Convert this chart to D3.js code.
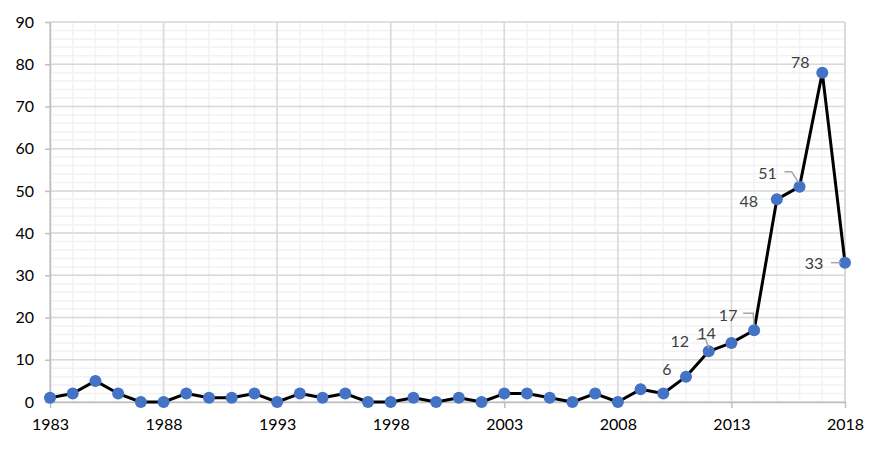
<!DOCTYPE html>
<html>
<head>
<meta charset="utf-8">
<script src="https://cdn.jsdelivr.net/npm/d3@7"></script>
<style>
  body { margin: 0; background: #fff; }
  text { font-family: Lato, "Open Sans", sans-serif; }
</style>
</head>
<body>
<div class="chart"></div>
<script>
// values
const years = d3.range(1983, 2019);
const counts = [1, 2, 5, 2, 0, 0, 2, 1, 1, 2, 0, 2, 1, 2, 0, 0, 1, 0, 1, 0,
                2, 2, 1, 0, 2, 0, 3, 2, 6, 12, 14, 17, 48, 51, 78, 33];
const xTickYears = [1983, 1988, 1993, 1998, 2003, 2008, 2013, 2018];
const yTicks = [0, 10, 20, 30, 40, 50, 60, 70, 80, 90];
const labelledYears = [2011, 2012, 2013, 2014, 2015, 2016, 2017, 2018];

// label placement (dx, dy from point) and leader lines, as excel put them
const labelPos = {
    2011: { dx: -19, dy: -8 },
    2012: { dx: -29, dy: -11, leader: [[-12, -12], [-3, -12], [0, -3]] },
    2013: { dx: -25, dy: -10 },
    2014: { dx: -26, dy: -16, leader: [[-11, -17], [-1, -17], [0, -5]] },
    2015: { dx: -28, dy: 1 },
    2016: { dx: -32, dy: -14, leader: [[-15, -15], [-8, -15], [-1, -4]] },
    2017: { dx: -22, dy: -11 },
    2018: { dx: -31, dy: 0, leader: [[-14, 0], [-4, 0]] }
};

const dims = { width: 886, height: 450 };
const margin = { left: 50, right: 41, top: 22, bottom: 48 };
const fontSize = '16px';

const svg = d3.select('.chart')
    .append('svg')
    .attr('width', dims.width)
    .attr('height', dims.height);

const x = d3.scaleLinear()
    .domain([1983, 2018])
    .range([margin.left, dims.width - margin.right]);

const y = d3.scaleLinear()
    .domain([0, 90])
    .range([dims.height - margin.bottom, margin.top]);

const grid = svg.append('g');

// minor gridlines
grid.selectAll('.vminor')
    .data(years)
    .enter().append('line')
    .attr('x1', d => x(d)).attr('x2', d => x(d))
    .attr('y1', y(0)).attr('y2', y(90))
    .attr('stroke', '#f2f2f2').attr('stroke-width', 1.5);

grid.selectAll('.hminor')
    .data(d3.range(0, 91, 2))
    .enter().append('line')
    .attr('x1', x(1983)).attr('x2', x(2018))
    .attr('y1', d => y(d)).attr('y2', d => y(d))
    .attr('stroke', '#f2f2f2').attr('stroke-width', 1.5);

// major gridlines
grid.selectAll('.vmajor')
    .data(xTickYears.concat([2018]))
    .enter().append('line')
    .attr('x1', d => x(d)).attr('x2', d => x(d))
    .attr('y1', y(0)).attr('y2', y(90))
    .attr('stroke', '#d9d9d9').attr('stroke-width', 1.5);

grid.selectAll('.hmajor')
    .data(yTicks)
    .enter().append('line')
    .attr('x1', x(1983)).attr('x2', x(2018))
    .attr('y1', d => y(d)).attr('y2', d => y(d))
    .attr('stroke', '#d9d9d9').attr('stroke-width', 1.5);

// axes
const yAxis = d3.axisLeft(y)
    .tickValues(yTicks)
    .tickSize(5)
    .tickPadding(11);

const xAxis = d3.axisBottom(x)
    .tickValues(xTickYears)
    .tickFormat(d3.format('d'))
    .tickSize(6)
    .tickPadding(11);

const styleAxis = g => {
    g.select('.domain').attr('stroke', '#bfbfbf').attr('stroke-width', 1.5);
    g.selectAll('.tick line').attr('stroke', '#bfbfbf').attr('stroke-width', 1.5);
    g.selectAll('.tick text')
        .attr('fill', '#000')
        .style('font-size', fontSize)
        .style('font-family', 'Lato, "Open Sans", sans-serif');
};

svg.append('g')
    .attr('transform', `translate(${x(1983)},0)`)
    .call(yAxis.tickSizeOuter(0))
    .call(styleAxis);

svg.append('g')
    .attr('transform', `translate(0,${y(0)})`)
    .call(xAxis.tickSizeOuter(0))
    .call(styleAxis);

// line + markers
const pts = years.map((yr, i) => ({ year: yr, value: counts[i] }));

const line = d3.line()
    .x(d => x(d.year))
    .y(d => y(d.value));

svg.append('path')
    .datum(pts)
    .attr('d', line)
    .attr('fill', 'none')
    .attr('stroke', '#000')
    .attr('stroke-width', 3)
    .attr('stroke-linejoin', 'round');

svg.selectAll('circle')
    .data(pts)
    .enter().append('circle')
    .attr('cx', d => x(d.year))
    .attr('cy', d => y(d.value))
    .attr('r', 6)
    .attr('fill', '#4472c4');

// data labels
const labelled = pts.filter(d => labelledYears.includes(d.year));

svg.selectAll('.leader')
    .data(labelled.filter(d => labelPos[d.year].leader))
    .enter().append('polyline')
    .attr('points', d => labelPos[d.year].leader
        .map(p => `${x(d.year) + p[0]},${y(d.value) + p[1]}`).join(' '))
    .attr('fill', 'none')
    .attr('stroke', '#a6a6a6')
    .attr('stroke-width', 1.5);

svg.selectAll('.dlabel')
    .data(labelled)
    .enter().append('text')
    .attr('x', d => x(d.year) + labelPos[d.year].dx)
    .attr('y', d => y(d.value) + labelPos[d.year].dy)
    .attr('text-anchor', 'middle')
    .attr('dominant-baseline', 'central')
    .attr('fill', '#404040')
    .style('font-size', fontSize)
    .text(d => d.value);
</script>
</body>
</html>
